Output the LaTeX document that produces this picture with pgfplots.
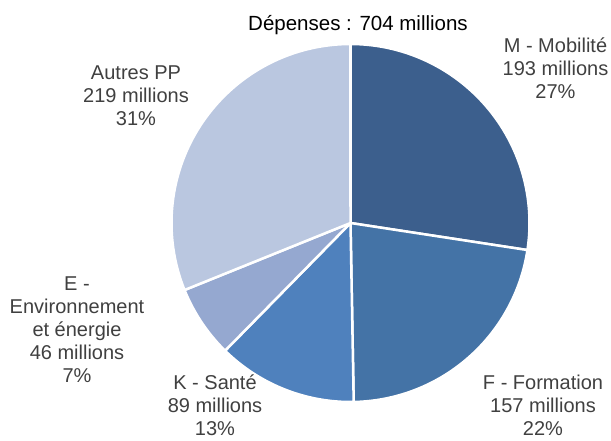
\documentclass[border=0pt]{standalone}
\usepackage{pgfplots}
\pgfplotsset{compat=1.18}
\usepackage{fontspec}
\setmainfont{Liberation Sans}
\definecolor{cM}{RGB}{60,95,141}
\definecolor{cF}{RGB}{68,115,166}
\definecolor{cK}{RGB}{79,129,189}
\definecolor{cE}{RGB}{149,168,208}
\definecolor{cA}{RGB}{186,199,224}
\definecolor{lblgray}{RGB}{64,64,64}
\begin{document}
\begin{tikzpicture}
% slice values (millions)
\def\vM{193}\def\vF{157}\def\vK{89}\def\vE{46}\def\vA{219}
\pgfmathsetmacro{\tot}{\vM+\vF+\vK+\vE+\vA}
\pgfmathsetmacro{\aA}{90}
\pgfmathsetmacro{\aB}{\aA-(\vM/\tot)*360}
\pgfmathsetmacro{\aC}{\aB-(\vF/\tot)*360}
\pgfmathsetmacro{\aD}{\aC-(\vK/\tot)*360}
\pgfmathsetmacro{\aE}{\aD-(\vE/\tot)*360}
\pgfmathsetmacro{\aF}{\aE-(\vA/\tot)*360}
\def\cx{350.5}\def\cy{217}\def\R{179}
\begin{axis}[name=ax, x=1pt, y=1pt, xmin=0, xmax=611, ymin=0, ymax=440,
  hide axis, clip=false]
\addplot[fill=cM, draw=white, line width=2.5pt, line join=round, domain=\aB:\aA, samples=90, variable=\t]
  ({\cx+\R*cos(\t)},{\cy+\R*sin(\t)}) -- (axis cs:\cx,\cy) -- cycle;
\addplot[fill=cF, draw=white, line width=2.5pt, line join=round, domain=\aC:\aB, samples=90, variable=\t]
  ({\cx+\R*cos(\t)},{\cy+\R*sin(\t)}) -- (axis cs:\cx,\cy) -- cycle;
\addplot[fill=cK, draw=white, line width=2.5pt, line join=round, domain=\aD:\aC, samples=60, variable=\t]
  ({\cx+\R*cos(\t)},{\cy+\R*sin(\t)}) -- (axis cs:\cx,\cy) -- cycle;
\addplot[fill=cE, draw=white, line width=2.5pt, line join=round, domain=\aE:\aD, samples=40, variable=\t]
  ({\cx+\R*cos(\t)},{\cy+\R*sin(\t)}) -- (axis cs:\cx,\cy) -- cycle;
\addplot[fill=cA, draw=white, line width=2.5pt, line join=round, domain=\aF:\aE, samples=90, variable=\t]
  ({\cx+\R*cos(\t)},{\cy+\R*sin(\t)}) -- (axis cs:\cx,\cy) -- cycle;
\node[font=\fontsize{20.5}{23}\selectfont, text=black] at (axis cs:358,415) {Dépenses : 704 millions};
\node[align=center, text=lblgray, font=\fontsize{20}{23}\selectfont] at (axis cs:555.5,372) {M - Mobilité\\193 millions\\27\%};
\node[align=center, text=lblgray, font=\fontsize{20}{23}\selectfont] at (axis cs:543,35) {F - Formation\\157 millions\\22\%};
\node[align=center, text=lblgray, font=\fontsize{20}{23}\selectfont] at (axis cs:215,35) {K - Santé\\89 millions\\13\%};
\node[align=center, text=lblgray, font=\fontsize{20}{23}\selectfont] at (axis cs:77,110) {E -\\Environnement\\et énergie\\46 millions\\7\%};
\node[align=center, text=lblgray, font=\fontsize{20}{23}\selectfont] at (axis cs:136,344) {Autres PP\\219 millions\\31\%};
\end{axis}
\pgfresetboundingbox
\path (ax.south west) rectangle (ax.north east);
\end{tikzpicture}
\end{document}
